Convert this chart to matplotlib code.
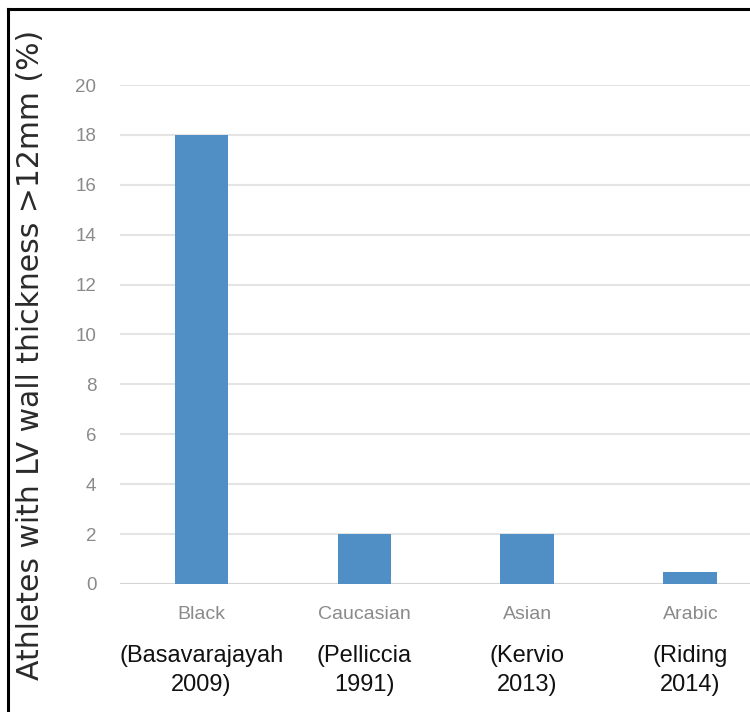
import matplotlib
matplotlib.use('Agg')
import matplotlib.pyplot as plt
from matplotlib.lines import Line2D

groups = ['Black', 'Caucasian', 'Asian', 'Arabic']
studies = ['(Basavarajayah\n2009)', '(Pelliccia\n1991)', '(Kervio\n2013)', '(Riding\n2014)']
values = [18, 2, 2, 0.5]
yticks = [0, 2, 4, 6, 8, 10, 12, 14, 16, 18, 20]

sans = ['Liberation Sans', 'DejaVu Sans']

fig = plt.figure(figsize=(7.5, 7.12), dpi=100)
ax = fig.add_axes([0.16, 0.1798, 0.869, 0.7008])

x = range(len(groups))
ax.bar(x, values, width=0.33, color='#4f8fc5', zorder=3)

ax.set_xlim(-0.5, 3.5)
ax.set_ylim(0, 20)
ax.set_yticks(yticks)
ax.set_yticklabels([str(v) for v in yticks], color='#8a8a8a', fontsize=13.5, family=sans)
ax.grid(axis='y', color='#e4e4e4', linewidth=1.5, zorder=0)
ax.axhline(0, color='#d4d4d4', linewidth=1.5, zorder=2)
for s in ax.spines.values():
    s.set_visible(False)
ax.tick_params(axis='both', length=0)
ax.tick_params(axis='y', pad=17)

ax.set_xticks(list(x))
ax.set_xticklabels(groups, color='#8a8a8a', fontsize=14, family=sans)
ax.tick_params(axis='x', pad=16)

for i, s in enumerate(studies):
    ax.text(i, -0.122, s, transform=ax.get_xaxis_transform(), ha='center', va='top',
            fontsize=17, family=sans, color='#111111', linespacing=1.4)

fig.text(0.041, 1 - 355 / 712, 'Athletes with LV wall thickness >12mm (%)', rotation=90,
         ha='center', va='center', fontsize=21.5, color='#2a2a2a', family=['DejaVu Sans'])

# frame lines left and top
fig.add_artist(Line2D([0.0103, 0.0103], [0, 1 - 9 / 712], color='black', linewidth=2.2))
fig.add_artist(Line2D([0.0103, 1], [1 - 9 / 712, 1 - 9 / 712], color='black', linewidth=2.2))

fig.savefig('out.png', dpi=100)
